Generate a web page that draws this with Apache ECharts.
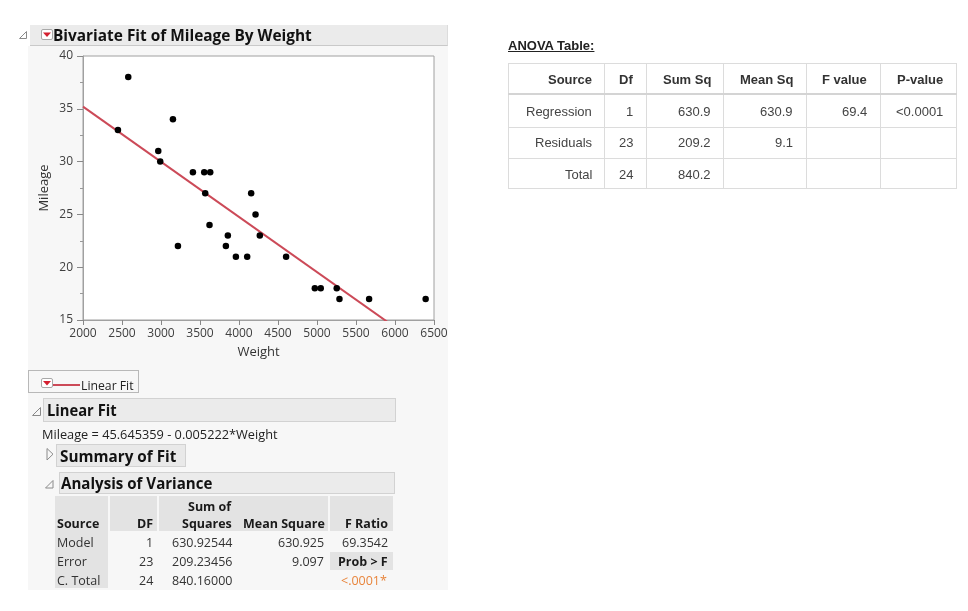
<!DOCTYPE html>
<html><head><meta charset="utf-8">
<script src="https://cdn.jsdelivr.net/npm/echarts@6/dist/echarts.min.js"></script>
<style>
html,body{margin:0;padding:0;background:#fff;width:968px;height:611px;overflow:hidden;}
#bg,#fg,#chart{position:absolute;left:0;top:0;width:968px;height:611px;}
#fg{pointer-events:none;}
.t{position:absolute;white-space:nowrap;line-height:1;}
.b{position:absolute;box-sizing:border-box;}
</style></head><body>
<div id="bg"></div><div id="chart"></div><div id="fg"></div>
<script>
// ---------------- data ----------------
const weight  = [2448, 2580, 2965, 2990, 3153, 3217, 3409, 3554, 3567, 3622, 3631, 3832, 3857, 3960, 4105, 4156, 4212, 4267, 4604, 4972, 5048, 5253, 5288, 5668, 6393];
const mileage = [33, 38, 31, 30, 34, 22, 29, 29, 27, 24, 29, 22, 23, 21, 21, 27, 25, 23, 21, 18, 18, 18, 17, 17, 17];
const fitIntercept = 45.645359;
const fitSlope = -0.005222;
const xRange = [2000, 6500];
const yRange = [15, 40];

const jmpSources = ['Model', 'Error', 'C. Total'];
const jmpDF = ['1', '23', '24'];
const jmpSS = ['630.92544', '209.23456', '840.16000'];
const jmpMS = ['630.925', '9.097', ''];
const jmpFRatio = ['69.3542', 'Prob > F', '<.0001*'];

const anovaHeaders = ['Source', 'Df', 'Sum Sq', 'Mean Sq', 'F value', 'P-value'];
const anovaSource = ['Regression', 'Residuals', 'Total'];
const anovaDf = ['1', '23', '24'];
const anovaSumSq = ['630.9', '209.2', '840.2'];
const anovaMeanSq = ['630.9', '9.1', ''];
const anovaF = ['69.4', '', ''];
const anovaP = ['<0.0001', '', ''];

// ---------------- helpers ----------------
const SEG = "'Open Sans','Noto Sans',sans-serif";
const ARI = "'Liberation Sans',Arial,sans-serif";
const bg = document.getElementById('bg');
const fg = document.getElementById('fg');

function box(x, y, w, h, css, parent) {
  const d = document.createElement('div');
  d.className = 'b';
  Object.assign(d.style, {left: x + 'px', top: y + 'px', width: w + 'px', height: h + 'px'}, css || {});
  (parent || bg).appendChild(d);
  return d;
}
function txt(s, x, y, o) {
  o = o || {};
  const d = document.createElement('div');
  d.className = 't';
  d.textContent = s;
  d.style.font = (o.w || 400) + ' ' + (o.s || 12) + 'px ' + (o.f || SEG);
  d.style.color = o.c || '#222';
  if (o.u) d.style.textDecoration = 'underline';
  fg.appendChild(d);
  const w = d.offsetWidth, h = d.offsetHeight;
  const al = o.a || 'left';
  const left = al === 'right' ? x - w : al === 'center' ? x - w / 2 : x;
  d.style.left = left + 'px';
  d.style.top = (y - h / 2) + 'px';
  if (o.tw) {
    d.style.transformOrigin = al === 'right' ? 'right center' : al === 'center' ? 'center center' : 'left center';
    d.style.transform = 'scaleX(' + (o.tw / w) + ')';
  }
  return d;
}
const svgNS = 'http://www.w3.org/2000/svg';
const svg = document.createElementNS(svgNS, 'svg');
svg.setAttribute('width', 968); svg.setAttribute('height', 611);
svg.style.position = 'absolute'; svg.style.left = 0; svg.style.top = 0;
fg.appendChild(svg);
function poly(pts, fill, stroke) {
  const p = document.createElementNS(svgNS, 'polygon');
  p.setAttribute('points', pts);
  p.setAttribute('fill', fill || 'none');
  if (stroke) { p.setAttribute('stroke', stroke); p.setAttribute('stroke-width', 1); }
  svg.appendChild(p);
}
function dropBtn(x, y, w, h) {
  box(x, y, w, h, {background: '#fff', border: '1px solid #a8a8a8', borderRadius: '2px'});
  const cx = x + w / 2, cy = y + h / 2;
  poly((cx - 4) + ',' + (cy - 2) + ' ' + (cx + 4) + ',' + (cy - 2) + ' ' + cx + ',' + (cy + 2.5), '#d42030');
}

// ---------------- JMP report chrome ----------------
box(28, 46, 420, 544, {background: '#f7f7f7'});
box(30, 25, 418, 21, {background: '#ebebeb', borderBottom: '1px solid #c9c9c9', borderRight: '1px solid #dcdcdc'});
poly('19.5,38.5 26.5,31.5 26.5,38.5', 'none', '#8a8a8a');
dropBtn(41, 29, 12, 11);
txt('Bivariate Fit of Mileage By Weight', 53, 34.5, {s: 16, w: 700, tw: 259, c: '#111'});

// legend box
box(28, 370, 111, 23, {border: '1px solid #b8b8b8'});
dropBtn(41, 378, 12, 10);
box(53, 383.5, 27, 2, {background: '#cc4a58'});
txt('Linear Fit', 81, 385, {s: 12, tw: 53, c: '#222'});

// Linear Fit outline
box(43, 398, 353, 24, {background: '#ebebeb', border: '1px solid #d2d2d2'});
poly('32.5,415.5 40.5,407.5 40.5,415.5', 'none', '#8a8a8a');
txt('Linear Fit', 47, 410, {s: 16, w: 700, tw: 70, c: '#111'});
txt('Mileage = 45.645359 - 0.005222*Weight', 42, 434, {s: 12, tw: 236, c: '#222'});

// Summary of Fit (collapsed)
box(56, 444, 130, 23, {background: '#e9e9e9', border: '1px solid #d2d2d2'});
poly('47,448.5 47,460 53,454.2', 'none', '#8a8a8a');
txt('Summary of Fit', 59.5, 455.5, {s: 16, w: 700, tw: 116.5, c: '#111'});

// Analysis of Variance
box(59, 472, 336, 22, {background: '#ebebeb', border: '1px solid #d2d2d2'});
poly('45.5,488 53,480.5 53,488', 'none', '#8a8a8a');
txt('Analysis of Variance', 60.5, 483, {s: 16, w: 700, tw: 151, c: '#111'});

// JMP table backgrounds
const HG = '#e3e3e3';
box(55, 496, 53, 92, {background: HG});
box(110, 496, 47, 35, {background: HG});
box(159, 496, 169, 35, {background: HG});
box(330, 496, 63, 35, {background: HG});
box(330, 552, 63, 18, {background: HG});

const hdr = {s: 12.5, w: 700, c: '#1a1a1a'};
txt('Source', 57, 523, hdr);
txt('DF', 153, 523, Object.assign({a: 'right'}, hdr));
txt('Sum of', 231, 506.5, Object.assign({a: 'right'}, hdr));
txt('Squares', 232, 523, Object.assign({a: 'right'}, hdr));
txt('Mean Square', 325, 523, Object.assign({a: 'right'}, hdr));
txt('F Ratio', 388, 523, Object.assign({a: 'right'}, hdr));
const rowY = [542.5, 561.5, 580];
const body = {s: 12.5, c: '#333'};
jmpSources.forEach((s, i) => {
  txt(s, 57, rowY[i], body);
  txt(jmpDF[i], 153, rowY[i], Object.assign({a: 'right'}, body));
  txt(jmpSS[i], 232, rowY[i], Object.assign({a: 'right'}, body));
  if (jmpMS[i]) txt(jmpMS[i], 324, rowY[i], Object.assign({a: 'right'}, body));
  const f = jmpFRatio[i];
  if (i === 1) txt(f, 388, rowY[i], Object.assign({a: 'right'}, hdr));
  else if (i === 2) txt(f, 387, rowY[i], {s: 12.5, a: 'right', c: '#e8853c'});
  else txt(f, 388, rowY[i], Object.assign({a: 'right'}, body));
});

// ---------------- right ANOVA table ----------------
txt('ANOVA Table:', 508, 45.5, {s: 13, w: 700, f: ARI, u: true, c: '#222'});
const colX = [508, 604, 646, 723, 806, 880, 957];
const LC = '#dcdcdc';
box(508, 63, 449, 126, {border: '1px solid ' + LC, background: '#fff'});
colX.slice(1, -1).forEach(x => box(x, 63, 1, 126, {background: LC}));
box(508, 93, 449, 2, {background: '#d4d4d4'});
box(508, 127, 449, 1, {background: LC});
box(508, 158, 449, 1, {background: LC});
const rEdge = [592, 633, 711, 793, 867, 943];
anovaHeaders.forEach((h, j) => txt(h, rEdge[j], 79, {s: 13, w: 700, f: ARI, a: 'right', c: '#333'}));
const aRowY = [111.5, 142.5, 174];
const cols = [anovaSource, anovaDf, anovaSumSq, anovaMeanSq, anovaF, anovaP];
cols.forEach((col, j) => col.forEach((v, i) => {
  if (v) txt(v, rEdge[j], aRowY[i], {s: 13, f: ARI, a: 'right', c: '#444'});
}));

// ---------------- scatter chart ----------------
const chart = echarts.init(document.getElementById('chart'), null, {renderer: 'canvas'});
const pts = weight.map((w, i) => [w, mileage[i]]);
const fitLine = xRange.map(x => [x, fitIntercept + fitSlope * x]);
const axisCol = '#a0a0a0';
chart.setOption({
  animation: false,
  backgroundColor: 'transparent',
  grid: {left: 83, top: 56, width: 351, height: 264, show: true, backgroundColor: '#fff', borderColor: axisCol, borderWidth: 1},
  xAxis: {
    type: 'value', min: xRange[0], max: xRange[1], interval: 500,
    name: 'Weight', nameLocation: 'middle', nameGap: 26,
    nameTextStyle: {fontFamily: SEG, fontSize: 13, color: '#333'},
    axisLine: {show: true, lineStyle: {color: axisCol}},
    axisTick: {show: true, length: 5, lineStyle: {color: '#888'}},
    axisLabel: {fontFamily: SEG, fontSize: 12, color: '#404040', margin: 8, formatter: v => String(v)},
    splitLine: {show: false}
  },
  yAxis: {
    type: 'value', min: yRange[0], max: yRange[1], interval: 5,
    name: 'Mileage', nameLocation: 'middle', nameGap: 32,
    nameTextStyle: {fontFamily: SEG, fontSize: 13, color: '#333'},
    axisLine: {show: true, lineStyle: {color: axisCol}},
    axisTick: {show: true, length: 6, lineStyle: {color: '#888'}},
    minorTick: {show: true, splitNumber: 2, length: 3, lineStyle: {color: '#999'}},
    axisLabel: {fontFamily: SEG, fontSize: 12, color: '#404040', margin: 10, formatter: v => String(v)},
    splitLine: {show: false}
  },
  series: [
    {type: 'line', data: fitLine, showSymbol: false, symbol: 'none', clip: true,
     lineStyle: {color: '#cc4a58', width: 2}, z: 2},
    {type: 'scatter', data: pts, symbol: 'circle', symbolSize: 6.5,
     itemStyle: {color: '#000', opacity: 1}, z: 3}
  ]
});
</script>
</body></html>
